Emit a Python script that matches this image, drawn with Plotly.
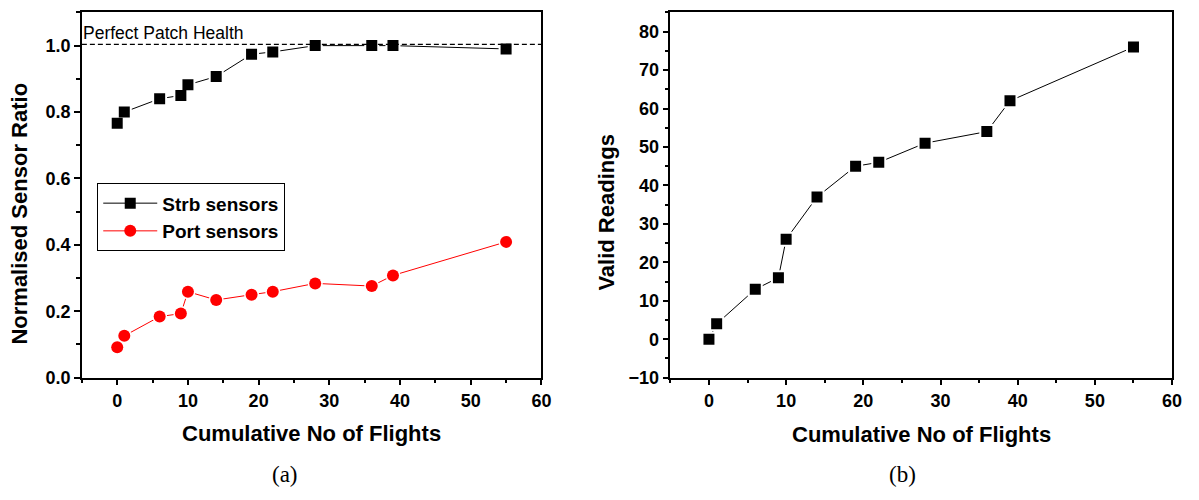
import plotly.graph_objects as go

# ---- data ----
flights = [0, 1, 6, 9, 10, 14, 19, 22, 28, 36, 39, 55]
strb_ratio = [0.766, 0.800, 0.840, 0.850, 0.882, 0.907, 0.974, 0.981, 1.000, 1.000, 1.000, 0.990]
port_ratio = [0.092, 0.126, 0.184, 0.193, 0.259, 0.234, 0.250, 0.259, 0.284, 0.276, 0.308, 0.409]
valid_readings = [0, 4, 13, 16, 26, 37, 45, 46, 51, 54, 62, 76]
perfect_level = 1.004
x_range = [-5, 60]

FONT = "Liberation Sans"
SERIF = "Liberation Serif"

# page body has an 8px margin on every side; size the figure so the page is exactly 1199x500
OFF = 8
W, H = 1199 - 2 * OFF, 500 - 2 * OFF


def px(x):
    return (x - OFF) / W


def py(y):
    return 1 - (y - OFF) / H


fig = go.Figure()


def add_series(x, y, color, symbol, name, xa, ya, legend):
    # line with white halo markers (gap around markers)
    fig.add_trace(go.Scatter(x=x, y=y, mode="lines+markers", xaxis=xa, yaxis=ya,
                             line=dict(color=color, width=1),
                             marker=dict(symbol=symbol, size=15, color="white",
                                         line=dict(width=0)),
                             showlegend=False, hoverinfo="skip"))
    return dict(x=x, y=y, color=color, symbol=symbol, name=name, xa=xa, ya=ya, legend=legend)


s1 = add_series(flights, strb_ratio, "black", "square", "Strb sensors", "x", "y", True)
s2 = add_series(flights, port_ratio, "#ff0000", "circle", "Port sensors", "x", "y", True)
s3 = add_series(flights, valid_readings, "black", "square", "Valid", "x2", "y2", False)

# dashed perfect health line
fig.add_trace(go.Scatter(x=x_range, y=[perfect_level, perfect_level], mode="lines",
                         xaxis="x", yaxis="y",
                         line=dict(color="black", width=1.2, dash="5px,3px"),
                         showlegend=False, hoverinfo="skip", cliponaxis=False))

for s in (s1, s2, s3):
    size = 11 if s["symbol"] == "square" else 12
    fig.add_trace(go.Scatter(x=s["x"], y=s["y"], mode="markers", xaxis=s["xa"], yaxis=s["ya"],
                             marker=dict(symbol=s["symbol"], size=size, color=s["color"],
                                         line=dict(width=0)),
                             showlegend=False))
    if s["legend"]:
        fig.add_trace(go.Scatter(x=[None], y=[None], mode="lines+markers", name=s["name"],
                                 xaxis=s["xa"], yaxis=s["ya"],
                                 line=dict(color=s["color"], width=1),
                                 marker=dict(symbol=s["symbol"], size=size, color=s["color"]),
                                 showlegend=True))

axis_common = dict(showline=True, linecolor="black", linewidth=1.5, mirror=True,
                   ticks="outside", ticklen=6, tickwidth=1.5, tickcolor="black",
                   showgrid=False, zeroline=False,
                   tickfont=dict(family=FONT, size=18, color="black", weight="bold"))
minor_common = dict(ticks="outside", ticklen=4, tickwidth=1.5, tickcolor="black")

ydom = [py(385.5), py(12.5)]
fig.update_layout(
    width=W, height=H,
    margin=dict(l=0, r=0, t=0, b=0),
    paper_bgcolor="white", plot_bgcolor="white",
    xaxis=dict(domain=[px(82.5), px(546)], range=x_range, dtick=10, tick0=0,
               minor=dict(dtick=5, tick0=0, **minor_common), **axis_common),
    yaxis=dict(domain=ydom, range=[0, 1.1], dtick=0.2, tick0=0, tickformat=".1f",
               minor=dict(dtick=0.1, tick0=0, **minor_common), **axis_common),
    xaxis2=dict(domain=[px(676), px(1182)], range=x_range, dtick=10, tick0=0, anchor="y2",
                minor=dict(dtick=5, tick0=0, **minor_common), **axis_common),
    yaxis2=dict(domain=ydom, range=[-10, 85], dtick=10, tick0=0, anchor="x2",
                minor=dict(dtick=5, tick0=0, **minor_common), **axis_common),
    legend=dict(x=px(98), y=py(187), xanchor="left", yanchor="top",
                bordercolor="black", borderwidth=1, bgcolor="white",
                font=dict(family=FONT, size=19, color="black", weight="bold"),
                tracegroupgap=0, itemwidth=54),
    showlegend=True,
)

title_font = dict(family=FONT, size=22, color="black", weight="bold")
ann = [
    dict(text="Cumulative No of Flights", x=px(314), y=py(442), font=title_font),
    dict(text="Cumulative No of Flights", x=px(929), y=py(443), font=title_font),
    dict(text="Normalised Sensor Ratio", x=px(20), y=py(218), font=title_font, textangle=-90),
    dict(text="Valid Readings", x=px(612), y=py(216), font=title_font, textangle=-90),
    dict(text="(a)", x=px(287), y=py(484), font=dict(family=SERIF, size=23, color="black")),
    dict(text="(b)", x=px(910), y=py(484), font=dict(family=SERIF, size=23, color="black")),
]
for a in ann:
    fig.add_annotation(xref="paper", yref="paper", xanchor="center", yanchor="middle",
                       showarrow=False, **a)

fig.add_annotation(xref="x", yref="y", x=-5, y=perfect_level, xanchor="left", yanchor="bottom",
                   text="Perfect Patch Health", showarrow=False,
                   font=dict(family=FONT, size=17.5, color="black"), borderpad=0)

fig.write_html("out.html")
